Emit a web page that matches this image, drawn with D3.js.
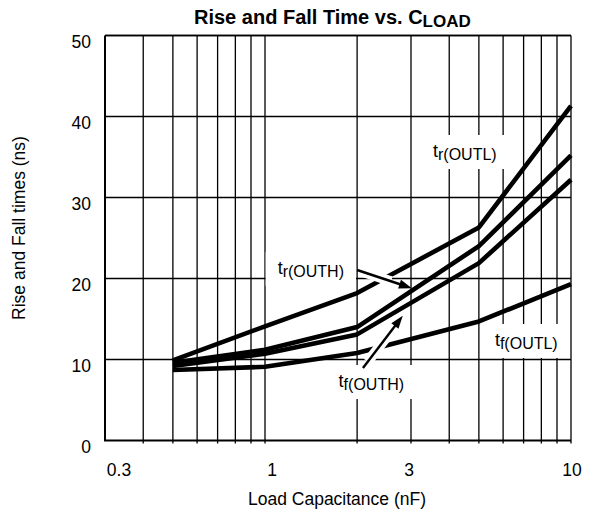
<!DOCTYPE html>
<html>
<head>
<meta charset="utf-8">
<script src="https://cdn.jsdelivr.net/npm/d3@7/dist/d3.min.js"></script>
<style>
  html, body { margin: 0; padding: 0; background: #fff; }
  svg { display: block; font-family: "Liberation Sans", Arial, Helvetica, sans-serif; }
</style>
</head>
<body>
<svg id="chart" width="589" height="512"></svg>
<script>
// ---- data ----
const capacitance = [0.5, 1, 2, 5, 10];          // nF
const trOUTL = [9.9, 14.1, 18.2, 26.3, 41.3];    // ns
const trOUTH = [9.6, 11.2, 14.0, 24.0, 35.2];
const tfOUTH = [9.2, 10.7, 13.1, 21.9, 32.2];
const tfOUTL = [8.7, 9.1, 10.8, 14.7, 19.3];
const xTickValues = [0.3, 1, 3, 10];
const xTickLabels = ["0.3", "1", "3", "10"];
const yTickValues = [0, 10, 20, 30, 40, 50];
const seriesNames = ["r(OUTL)", "r(OUTH)", "f(OUTH)", "f(OUTL)"];
// label anchor (C, value) for each series label
const labelC = [3.54, 1.10, 1.74, 5.64];
const labelV = [35.0, 20.55, 6.6, 11.67];
const labelSeries = ["r(OUTL)", "r(OUTH)", "f(OUTH)", "f(OUTL)"];
// arrows: [fromC, fromV, toC, toV]
const arrowFromC = [2.0, 2.09];
const arrowFromV = [21.05, 8.95];
const arrowToC = [3.02, 2.82];
const arrowToV = [18.8, 15.4];

const svg = d3.select("#chart");
const x = d3.scaleLog().domain([0.3, 10]).range([105, 571]);
const y = d3.scaleLinear().domain([0, 50]).range([440.5, 35.5]);

// ---- grid ----
const grid = svg.append("g").attr("stroke", "#000").attr("stroke-width", 1.3);
grid.selectAll("line.v").data(x.ticks().filter(d => d > 0.3)).join("line")
  .attr("x1", d => x(d)).attr("x2", d => x(d))
  .attr("y1", y(50)).attr("y2", y(0) + 3);
grid.selectAll("line.h").data(yTickValues.filter(d => d > 0)).join("line")
  .attr("x1", x(0.3)).attr("x2", x(10))
  .attr("y1", d => y(d)).attr("y2", d => y(d));

// axes lines
svg.append("line").attr("x1", x(0.3)).attr("x2", x(0.3)).attr("y1", y(50)).attr("y2", y(0))
  .attr("stroke", "#000").attr("stroke-width", 2);
svg.append("line").attr("x1", x(0.3) - 1).attr("x2", x(10)).attr("y1", y(0)).attr("y2", y(0))
  .attr("stroke", "#000").attr("stroke-width", 2);

// ---- label text (measure first for white boxes) ----
const labelG = svg.append("g");
const labels = labelG.selectAll("text").data(labelSeries).join("text")
  .attr("x", (d, i) => x(labelC[i]))
  .attr("y", (d, i) => y(labelV[i]))
  .attr("font-size", 18)
  .attr("fill", "#000");
labels.append("tspan").text("t");
labels.append("tspan").attr("font-size", 16).attr("dy", 3).text(d => d);

const boxes = [];
labels.each(function () { boxes.push(this.getBBox()); });
const boxG = svg.insert("g", () => labelG.node());
boxG.selectAll("rect").data(boxes).join("rect")
  .attr("x", b => b.x - 12).attr("y", b => b.y - 6)
  .attr("width", b => b.width + 24).attr("height", b => b.height + 12)
  .attr("fill", "#fff");

// ---- curves ----
const line = d3.line().x(d => x(d[0])).y(d => y(d[1]));
const allSeries = [trOUTL, trOUTH, tfOUTH, tfOUTL];
const curveG = svg.insert("g", () => labelG.node());
curveG.selectAll("path").data(allSeries).join("path")
  .attr("d", s => line(capacitance.map((c, i) => [c, s[i]])))
  .attr("fill", "none").attr("stroke", "#000")
  .attr("stroke-width", 4.6).attr("stroke-linejoin", "round");

// ---- arrows ----
const arrowG = svg.insert("g", () => labelG.node());
arrowFromC.forEach((c, i) => {
  const x0 = x(c), y0 = y(arrowFromV[i]);
  const x1 = x(arrowToC[i]), y1 = y(arrowToV[i]);
  const dx = x1 - x0, dy = y1 - y0, L = Math.hypot(dx, dy);
  const ux = dx / L, uy = dy / L;
  // white halo on middle part
  arrowG.append("line")
    .attr("x1", x0 + dx * 0.12).attr("y1", y0 + dy * 0.12)
    .attr("x2", x0 + dx * 0.62).attr("y2", y0 + dy * 0.62)
    .attr("stroke", "#fff").attr("stroke-width", 10);
  const headLen = 13, headW = 4.5;
  const bx = x1 - ux * headLen, by = y1 - uy * headLen;
  arrowG.append("line")
    .attr("x1", x0).attr("y1", y0).attr("x2", bx + ux * 2).attr("y2", by + uy * 2)
    .attr("stroke", "#000").attr("stroke-width", 2.4);
  arrowG.append("path")
    .attr("d", `M${x1},${y1}L${bx - uy * headW},${by + ux * headW}L${bx + uy * headW},${by - ux * headW}Z`)
    .attr("fill", "#000");
});

// top border
svg.append("line").attr("x1", x(0.3)).attr("x2", x(10)).attr("y1", y(50)).attr("y2", y(50))
  .attr("stroke", "#000").attr("stroke-width", 1.3);

// ---- tick labels ----
const xNudge = [14, 7, -2, 1];
svg.append("g").selectAll("text").data(xTickValues).join("text")
  .attr("x", (d, i) => x(d) + xNudge[i]).attr("y", 476)
  .attr("text-anchor", "middle").attr("font-size", 17.5)
  .text((d, i) => xTickLabels[i]);
svg.append("g").selectAll("text").data(yTickValues).join("text")
  .attr("x", 91).attr("y", d => y(d) + 12.5)
  .attr("text-anchor", "end").attr("font-size", 17.5)
  .text(d => d);

// ---- axis titles ----
svg.append("text").attr("x", 337).attr("y", 505).attr("text-anchor", "middle")
  .attr("font-size", 17.5).text("Load Capacitance (nF)");
svg.append("text").attr("transform", "translate(25,228) rotate(-90)")
  .attr("text-anchor", "middle").attr("font-size", 17.5).text("Rise and Fall times (ns)");

// ---- title ----
const title = svg.append("text").attr("x", 194).attr("y", 23.5)
  .attr("font-size", 20).attr("font-weight", "bold");
title.append("tspan").text("Rise and Fall Time vs. C");
title.append("tspan").attr("font-size", 17).attr("dy", 3.5).text("LOAD");
</script>
</body>
</html>
